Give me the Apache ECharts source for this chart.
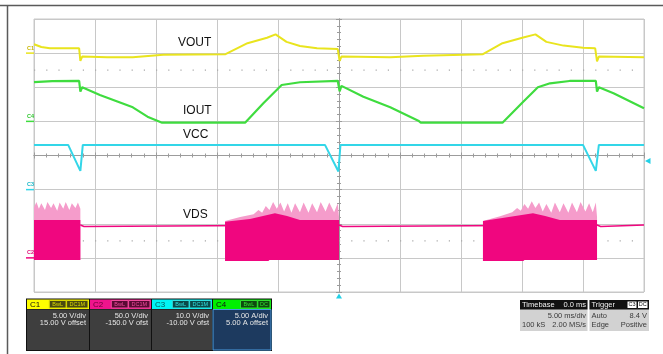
<!DOCTYPE html>
<html>
<head>
<meta charset="utf-8">
<script src="https://cdn.jsdelivr.net/npm/echarts@6/dist/echarts.min.js"></script>
<style>
  html, body { margin: 0; padding: 0; background: #fff; }
  #main { width: 663px; height: 354px; }
</style>
</head>
<body>
<div id="main"></div>
<script>
// time axis in ms, 5 ms/div, screen centre = 0.0 ms
var timeMin = -25, timeMax = 25, timeDiv = 5;

// channel setup
var chNames = ['C1', 'C2', 'C3', 'C4'];
var chScale = [5, 50, 10, 5];          // units / div
var chOffset = [15, -150, -10, 5];     // offset
var chColor = ['#e9e41e', '#f0067f', '#33d6e8', '#3fdc3f'];
var chLine1 = ['5.00 V/div', '50.0 V/div', '10.0 V/div', '5.00 A/div'];
var chLine2 = ['15.00 V offset', '-150.0 V ofst', '-10.00 V ofst', '5.00 A offset'];
var chTags = [['BwL', 'DC1M'], ['BwL', 'DC1M'], ['BwL', 'DC1M'], ['BwL', 'DC']];

// C1 VOUT (V)
var vout = [
  [-25, 1.3], [-24.4, 0.9], [-23.7, 0.7], [-21.3, 0.7], [-21.2, -1.15], [-21.05, -0.5],
  [-19, -0.6], [-16.9, -0.6], [-14.4, -0.25], [-9.3, -0.15], [-7.5, 1.45], [-5.9, 2.25],
  [-5.2, 2.75], [-4.3, 1.65], [-3.2, 1.05], [-1.8, 0.7], [-0.1, 0.6], [0.05, -1.15],
  [0.2, -0.5], [4.2, -0.6], [6.9, -0.4], [11.8, -0.15], [13.4, 1.45], [15.1, 2.3],
  [16.1, 2.75], [17.0, 1.65], [18.4, 1.1], [20.0, 0.8], [21.0, 0.7], [21.15, -1.2],
  [21.3, -0.5], [25, -0.6]
];

// C4 IOUT (A)
var iout = [
  [-25, 5.75], [-23.5, 5.9], [-21.3, 5.92], [-21.2, 4.35], [-21.05, 5.0], [-19.6, 3.86],
  [-16.9, 2.06], [-15.7, 0.69], [-14.5, -0.19], [-7.7, -0.19], [-6.2, 2.65], [-4.7, 5.33],
  [-3.2, 5.73], [-0.1, 5.92], [0.05, 4.4], [0.2, 5.2], [2.0, 3.62], [4.2, 2.06],
  [6.5, 0.1], [6.7, -0.19], [13.4, -0.19], [15.1, 2.88], [16.3, 5.0], [17.3, 5.58],
  [18.9, 5.92], [21.05, 5.92], [21.15, 4.35], [21.3, 5.0], [22.5, 4.11], [25, 1.92]
];

// C3 VCC (V)
var vcc = [
  [-25, 13.1], [-22.2, 13.1], [-21.2, 5.5], [-21.0, 13.1], [-1.15, 13.1], [-0.05, 5.3],
  [0.12, 13.1], [20.0, 13.1], [21.05, 5.5], [21.3, 13.1], [25, 13.1]
];

// C2 VDS (V): idle level plus three switching bursts (envelopes)
var vdsIdle = [
  [-25, 48.2], [-21.2, 48.2], [-21.05, 51], [-20.9, 46], [-20.75, 48.2], [0, 48.2],
  [0.15, 51], [0.3, 46], [0.45, 48.2], [21.15, 48.2], [21.3, 51], [21.45, 46],
  [21.6, 48.2], [25, 48.2]
];
var burst1Top = [[-25, 55.5], [-21.2, 55.5]];
var burst1Bottom = [[-25, -3], [-21.2, -3]];
var burst1Spike = [[-25, 74], [-24.8, 82], [-24.6, 72], [-24.4, 80], [-24.1, 70], [-23.9, 82],
  [-23.6, 73], [-23.4, 80], [-23.1, 69], [-22.9, 81], [-22.6, 72], [-22.4, 82], [-22.1, 70],
  [-21.9, 80], [-21.6, 73], [-21.4, 81], [-21.2, 72]];
var burst2Top = [[-9.34, 53], [-7.3, 57], [-5.25, 65.3], [-4.26, 61.4], [-3.2, 55.5], [0, 55.5]];
var burst2Bottom = [[-9.34, -4.5], [-5.8, -4.5], [-5.7, -3.1], [0, -3.1]];
var burst2Spike = [[-9.34, 54], [-8.1, 60], [-7.0, 64], [-6.6, 70], [-6.3, 66], [-6.0, 76],
  [-5.7, 70], [-5.4, 82], [-5.1, 72], [-4.8, 81], [-4.5, 68], [-4.2, 80], [-3.9, 66],
  [-3.6, 80], [-3.2, 67], [-2.9, 81], [-2.5, 66], [-2.2, 80], [-1.8, 67], [-1.5, 82],
  [-1.1, 68], [-0.8, 81], [-0.4, 67], [-0.1, 80], [0, 60]];
var burst3Top = [[11.8, 54], [15.9, 65.3], [16.9, 61.4], [18.1, 55.5], [21.15, 55.5]];
var burst3Bottom = [[11.8, -4.5], [15.1, -4.5], [15.2, -3.1], [21.15, -3.1]];
var burst3Spike = [[11.8, 54], [13.2, 61], [14.2, 67], [14.6, 73], [14.9, 69], [15.2, 79],
  [15.5, 72], [15.8, 83], [16.1, 73], [16.4, 81], [16.7, 68], [17.0, 79], [17.4, 66],
  [17.7, 81], [18.1, 67], [18.4, 80], [18.8, 66], [19.1, 81], [19.5, 67], [19.8, 82],
  [20.2, 68], [20.5, 80], [20.8, 67], [21.05, 81], [21.15, 60]];

var traceLabels = ['VOUT', 'IOUT', 'VCC', 'VDS'];
var trigLevel = 8.4; // C3

var FONT = '"Liberation Sans", Arial, sans-serif';
var GRID_COLOR = '#c8c8c8';
var AXIS_COLOR = '#9c9c9c';

var chart = echarts.init(document.getElementById('main'));

function centerX(inside) {
  return {
    type: 'value', min: timeMin, max: timeMax, interval: timeDiv, position: 'bottom',
    axisLine: { show: true, onZero: true, onZeroAxisIndex: 0, lineStyle: { color: AXIS_COLOR, width: 1 } },
    axisTick: { show: true, inside: inside, length: 3, lineStyle: { color: AXIS_COLOR } },
    minorTick: { show: true, splitNumber: 5, length: 2, lineStyle: { color: AXIS_COLOR } },
    axisLabel: { show: false }, splitLine: { show: false }
  };
}
function centerY(inside) {
  return {
    type: 'value', min: -4, max: 4, interval: 1, position: 'left',
    axisLine: { show: true, onZero: true, onZeroAxisIndex: 0, lineStyle: { color: AXIS_COLOR, width: 1 } },
    axisTick: { show: true, inside: inside, length: 3, lineStyle: { color: AXIS_COLOR } },
    minorTick: { show: true, splitNumber: 5, length: 2, lineStyle: { color: AXIS_COLOR } },
    axisLabel: { show: false }, splitLine: { show: false }
  };
}
function channelAxis(i) {
  var centre = -chOffset[i];
  return {
    type: 'value', show: false, position: 'left',
    min: centre - 4 * chScale[i], max: centre + 4 * chScale[i],
    axisLine: { onZero: false }, splitLine: { show: false }
  };
}
function band(top, bottom, color, z) {
  return {
    type: 'custom', xAxisIndex: 0, yAxisIndex: 4, z: z, silent: true,
    data: [top[0]],
    renderItem: function (params, api) {
      var pts = top.map(function (p) { return api.coord(p); });
      for (var i = bottom.length - 1; i >= 0; i--) pts.push(api.coord(bottom[i]));
      return { type: 'polygon', shape: { points: pts }, style: { fill: color } };
    }
  };
}
function trace(data, yIdx, color, width, z) {
  return {
    type: 'line', data: data, xAxisIndex: 0, yAxisIndex: yIdx, showSymbol: false,
    symbol: 'none', z: z, silent: true,
    lineStyle: { color: color, width: width }
  };
}

var dotLevels = [2.5, -2.5];

chart.setOption({
  animation: false,
  grid: { left: 34, right: 19, top: 19, bottom: 62, show: true, borderColor: GRID_COLOR, borderWidth: 1, outerBoundsMode: 'none' },
  xAxis: [
    {
      type: 'value', min: timeMin, max: timeMax, interval: timeDiv, position: 'bottom',
      axisLine: { show: false, onZero: false }, axisTick: { show: false }, axisLabel: { show: false },
      splitLine: { show: true, lineStyle: { color: GRID_COLOR, width: 1 } }
    },
    centerX(true),
    centerX(false)
  ],
  yAxis: [
    {
      type: 'value', min: -4, max: 4, interval: 1, position: 'left',
      axisLine: { show: false, onZero: false }, axisTick: { show: false }, axisLabel: { show: false },
      splitLine: { show: true, lineStyle: { color: GRID_COLOR, width: 1 } }
    },
    centerY(true),
    centerY(false),
    channelAxis(0), channelAxis(1), channelAxis(2), channelAxis(3)
  ],
  series: [
    // dotted reference rows
    {
      type: 'line', xAxisIndex: 0, yAxisIndex: 0, symbol: 'none', silent: true, z: 1,
      data: [[timeMin, dotLevels[0]], [timeMax, dotLevels[0]]],
      lineStyle: { color: '#a8a8a8', width: 1.2, type: [1.2, 11] }
    },
    {
      type: 'line', xAxisIndex: 0, yAxisIndex: 0, symbol: 'none', silent: true, z: 1,
      data: [[timeMin, dotLevels[1]], [timeMax, dotLevels[1]]],
      lineStyle: { color: '#a8a8a8', width: 1.2, type: [1.2, 11] }
    },
    trace(vdsIdle, 4, chColor[1], 1.5, 2),
    band(burst1Spike, burst1Bottom, '#f59ccb', 3),
    band(burst2Spike, burst2Bottom, '#f59ccb', 3),
    band(burst3Spike, burst3Bottom, '#f59ccb', 3),
    band(burst1Top, burst1Bottom, chColor[1], 4),
    band(burst2Top, burst2Bottom, chColor[1], 4),
    band(burst3Top, burst3Bottom, chColor[1], 4),
    trace(vcc, 5, chColor[2], 2, 5),
    trace(iout, 6, chColor[3], 2.2, 6),
    trace(vout, 3, chColor[0], 2, 7)
  ]
});

// ---- annotations and scope panels ----
var g = [];
function gLine(x1, y1, x2, y2, color, w) {
  g.push({ type: 'line', silent: true, z: 50, shape: { x1: x1, y1: y1, x2: x2, y2: y2 }, style: { stroke: color, lineWidth: w } });
}
function gRect(x, y, w, h, fill, stroke) {
  g.push({ type: 'rect', silent: true, z: 50, shape: { x: x, y: y, width: w, height: h },
    style: { fill: fill, stroke: stroke || null, lineWidth: 1 } });
}
function gText(x, y, s, size, color, align, weight) {
  g.push({ type: 'text', silent: true, z: 60, x: x, y: y,
    style: { text: s, fontSize: size, fontFamily: FONT, fontWeight: weight || 'normal', fill: color,
      align: align || 'left', verticalAlign: 'middle' } });
}
function gPoly(pts, color) {
  g.push({ type: 'polygon', silent: true, z: 60, shape: { points: pts }, style: { fill: color } });
}

// outer frame
gLine(0, 5.5, 663, 5.5, '#5a5a5a', 1.5);
gLine(7.5, 5.5, 7.5, 354, '#5a5a5a', 1.5);

// trace names
gText(178, 43, traceLabels[0], 12, '#111');
gText(183, 111, traceLabels[1], 12, '#111');
gText(183, 135, traceLabels[2], 12, '#111');
gText(183, 215, traceLabels[3], 12, '#111');

// channel ground markers on the left
var markColor = ['#c9b800', '#e0107a', '#19b8c8', '#2ec82e'];
for (var i = 0; i < 4; i++) {
  var py = chart.convertToPixel({ yAxisIndex: 3 + i }, 0);
  gLine(26, py, 34, py, chColor[i], 1.5);
  gText(27, py - 5, chNames[i], 5.5, markColor[i], 'left', 'bold');
}

// trigger markers
var ty = chart.convertToPixel({ yAxisIndex: 5 }, trigLevel);
gPoly([[645, ty], [650.5, ty - 3], [650.5, ty + 3]], '#22d0e6');
var tx = chart.convertToPixel({ xAxisIndex: 0 }, 0);
gPoly([[tx, 293.5], [tx - 3, 298.5], [tx + 3, 298.5]], '#22d0e6');

// channel info boxes
var boxX = [27, 90, 152, 213];
var boxW = [62, 61, 60, 58];
var headColor = ['#ffff00', '#f0148c', '#00f4f4', '#00f000'];
var headText = ['#111', '#6a0036', '#005a5a', '#111'];
var tagFill = ['#4a4a10', '#5a0a34', '#0a4a4a', '#0e4a0e'];
var tagText = ['#d8d800', '#f04c9c', '#30e0e0', '#30e030'];
gRect(26, 298.5, 246, 52.5, '#111');
for (var k = 0; k < 4; k++) {
  var x0 = boxX[k], w = boxW[k];
  var navy = k === 3;
  gRect(x0, 309.5, w, 40.5, navy ? '#1d3a5f' : '#3e3e3e', navy ? '#4b9be0' : null);
  gRect(x0, 299.5, w, 9.5, headColor[k]);
  gText(x0 + 3, 304.5, chNames[k], 8, headText[k]);
  var tags = chTags[k];
  var right = x0 + w - 1;
  for (var t = tags.length - 1; t >= 0; t--) {
    var tw = tags[t].length * 4.6 + 3;
    gRect(right - tw, 300.5, tw, 7.5, tagFill[k], tagText[k]);
    gText(right - tw / 2, 304.4, tags[t], 5.5, tagText[k], 'center');
    right -= tw + 0.5;
  }
  gText(x0 + w - 3, 315.5, chLine1[k], 7.5, '#e6e6e6', 'right');
  gText(x0 + w - 3, 323, chLine2[k], 7.5, '#e6e6e6', 'right');
}

// timebase box
gRect(520, 300, 67.5, 31, '#d2d2d2');
gRect(520, 300, 67.5, 9.5, '#111');
gText(522, 304.8, 'Timebase', 7.5, '#f0f0f0');
gText(586, 304.8, '0.0 ms', 7.5, '#f0f0f0', 'right');
gText(586, 315.5, '5.00 ms/div', 7.5, '#3a3a3a', 'right');
gText(522, 324.5, '100 kS', 7.5, '#3a3a3a');
gText(586, 324.5, '2.00 MS/s', 7.5, '#3a3a3a', 'right');

// trigger box
gRect(589.5, 300, 59.5, 31, '#d2d2d2');
gRect(589.5, 300, 59.5, 9.5, '#111');
gText(591.5, 304.8, 'Trigger', 7.5, '#f0f0f0');
gRect(627, 301, 10, 7.5, '#fff', '#111');
gText(632, 304.8, 'C3', 5.5, '#111', 'center');
gRect(637.5, 301, 10.5, 7.5, '#fff', '#111');
gText(642.75, 304.8, 'DC', 5.5, '#111', 'center');
gText(591.5, 315.5, 'Auto', 7.5, '#3a3a3a');
gText(647, 315.5, trigLevel.toFixed(1) + ' V', 7.5, '#3a3a3a', 'right');
gText(591.5, 324.5, 'Edge', 7.5, '#3a3a3a');
gText(647, 324.5, 'Positive', 7.5, '#3a3a3a', 'right');

chart.setOption({ graphic: g });
</script>
</body>
</html>
